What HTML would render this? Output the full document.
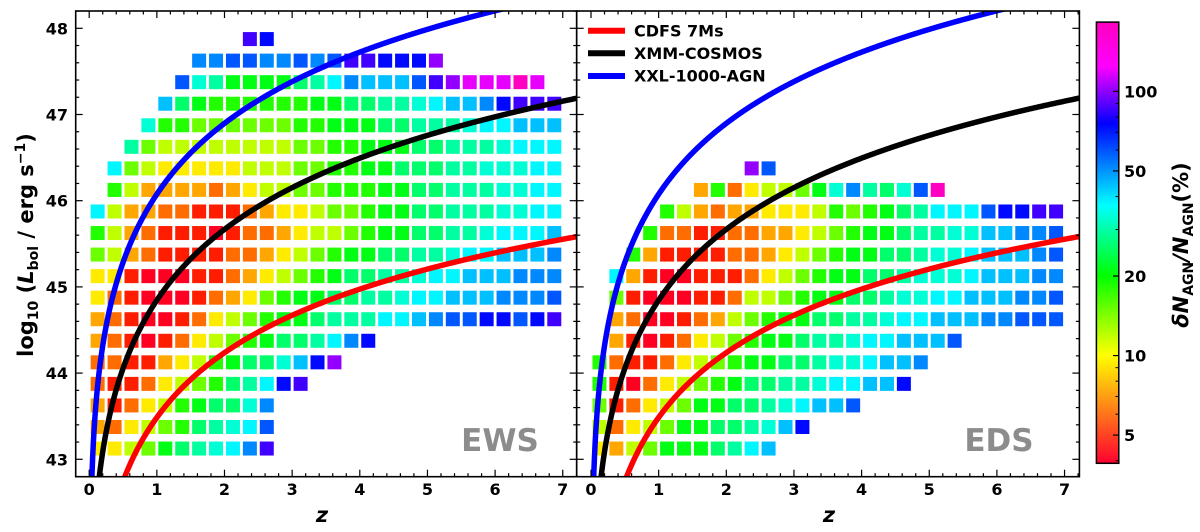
<!DOCTYPE html>
<html><head><meta charset="utf-8"><style>
html,body{margin:0;padding:0;background:#fff;width:1200px;height:532px;overflow:hidden;}
svg{display:block;font-family:"DejaVu Sans","Liberation Sans",sans-serif;}
</style></head><body>
<svg id="chart" width="1200" height="532" viewBox="0 0 1200 532" xmlns="http://www.w3.org/2000/svg" style="overflow:hidden">
<defs>
<clipPath id="clipL"><rect x="75.7" y="11" width="501" height="465.7"/></clipPath>
<clipPath id="clipR"><rect x="576.7" y="11" width="502.7" height="465.7"/></clipPath>
<linearGradient id="cbgrad" x1="0" y1="1" x2="0" y2="0">
<stop offset="0" stop-color="#ff0030"/><stop offset="0.245" stop-color="#ffff00"/><stop offset="0.425" stop-color="#00ff00"/><stop offset="0.585" stop-color="#00ffff"/><stop offset="0.77" stop-color="#0000ff"/><stop offset="0.9" stop-color="#ff00ff"/><stop offset="1" stop-color="#ff00c0"/>
</linearGradient>
</defs>
<g id="cells"></g>
<g id="curves"></g>
<g id="axes"></g>
<text x="500" y="451" font-size="31" font-weight="bold" fill="#8c8c8c" text-anchor="middle">EWS</text>
<text x="999" y="451" font-size="31" font-weight="bold" fill="#8c8c8c" text-anchor="middle">EDS</text>
<g>
<line x1="588" y1="30.7" x2="625" y2="30.7" stroke="#ff0000" stroke-width="6"/>
<text x="634" y="36.5" font-size="16" font-weight="bold">CDFS 7Ms</text>
<line x1="588" y1="53.3" x2="625" y2="53.3" stroke="#000" stroke-width="6"/>
<text x="634" y="59" font-size="16" font-weight="bold">XMM-COSMOS</text>
<line x1="588" y1="76" x2="625" y2="76" stroke="#0000ff" stroke-width="6"/>
<text x="634" y="81.7" font-size="16" font-weight="bold">XXL-1000-AGN</text>
</g>
<text transform="translate(33,245) rotate(-90)" text-anchor="middle" font-size="21" font-weight="bold">log<tspan font-size="14" dy="5">10</tspan><tspan dy="-5"> (</tspan><tspan font-style="italic">L</tspan><tspan font-size="14" dy="5">bol</tspan><tspan dy="-5"> / erg s</tspan><tspan font-size="14" dy="-8">−1</tspan><tspan dy="8">)</tspan></text>
<text x="322" y="522" font-size="21" font-weight="bold" font-style="italic" text-anchor="middle">z</text>
<text x="829" y="522" font-size="21" font-weight="bold" font-style="italic" text-anchor="middle">z</text>
<rect x="1096.4" y="22.1" width="22.4" height="441.2" fill="url(#cbgrad)" stroke="#000" stroke-width="1.5"/>
<g id="cbticks"></g>
<text transform="translate(1188,245) rotate(-90)" text-anchor="middle" font-size="21" font-weight="bold"><tspan font-style="italic">δN</tspan><tspan font-size="14" dy="5">AGN</tspan><tspan dy="-5" font-style="italic">/N</tspan><tspan font-size="14" dy="5">AGN</tspan><tspan dy="-5">(%)</tspan></text>
</svg>
<script>
// ---- data ----
const levelCodes = "0123456789abcdefghijk";
const levelValues = [4.0,4.9,6.3,7.6,9.4,11.9,15.0,18.3,21.1,25.9,29.6,33.4,37.9,44.2,51.5,59.4,73.8,85.5,101,119,176];
const zBinCenters = [0.125,0.375,0.625,0.875,1.125,1.375,1.625,1.875,2.125,2.375,2.625,2.875,3.125,3.375,3.625,3.875,4.125,4.375,4.625,4.875,5.125,5.375,5.625,5.875,6.125,6.375,6.625,6.875];
const lumBinCenters = [43.125,43.375,43.625,43.875,44.125,44.375,44.625,44.875,45.125,45.375,45.625,45.875,46.125,46.375,46.625,46.875,47.125,47.375,47.625,47.875];
const ewsRows = [
"445689abceh",
"3245679abcf",
"312457899be",
"211245679acgh",
"22113457899bdgi",
"3210124567899aceg",
"32100124567889aaaccdeffggfgh",
"4210001234678899aabccdddeeef",
"44100011234567899aabccdddeee",
"6532111122345678899aabccddde",
"753211101223455678899aabcccd",
"c53322111234456678899aaabbcc",
".75333323455667778899aaabbcc",
".c6544444555667788999aabbbcc",
"..a655555555667788899aaabccc",
"...b776666667788899aaabccddd",
"....d987777778899aabcddeghhh",
".....fba88889acedddfhijjjkj.",
"......eeffeefefhhgggi.......",
".........hg................."
];
const edsRows = [
"43568889acd",
"524568899abdg",
"6124568899abcddf",
"71024567899aabccddg",
"7211245678899abbcdde",
".310124567889aabccdddf",
".32001235678899aabccdddeefff",
".6100011255678899abbccdddeef",
".c3100111245678899abbbcdddee",
"..73111122345678899abbcdddef",
"...7221122334567889aabbddeef",
"....753233444576789acccfgghh",
"......37245568bea9bfk",
".........if",
"","","","","",""
];
// flux-limit curves: log L = norm + 2 log10(dL/Gpc) + slope*log10(1+z)
const surveyNames = ["cdfs-7ms","xmm-cosmos","xxl-1000-agn"];
const surveyNorm = [41.83, 43.07, 44.30];
const surveySlope = [0.05, 0.45, 0.45];
const surveyColors = ["#ff0000","#000000","#0000ff"];
const cbTickValues = [5,10,20,50,100];
const cbMinorValues = [4,6,7,8,9,30,40,60,70,80,90];

// ---- scales ----
const NS="http://www.w3.org/2000/svg";
const panels=[{zero:89.2,x0:75.7,x1:576.7,clip:"clipL",name:"ews"},{zero:591.0,x0:576.7,x1:1079.4,clip:"clipR",name:"eds"}];
const zs=67.65;
function xS(p,z){return p.zero+z*zs;}
function yS(L){return 28.3+(48-L)*86.2;}
const vmin=3.91,vmax=183;
function tOf(v){return (Math.log10(v)-Math.log10(vmin))/(Math.log10(vmax)-Math.log10(vmin));}
function colorOf(v){
  const t=Math.max(0,Math.min(1,tOf(v)));
  const T=[0,0.245,0.425,0.585,0.77,0.9,1], H=[-10,60,120,180,240,300,316];
  let h=H[6];
  for(let i=0;i<6;i++){if(t<=T[i+1]){h=H[i]+(H[i+1]-H[i])*(t-T[i])/(T[i+1]-T[i]);break;}}
  return "hsl("+((h+360)%360).toFixed(1)+",100%,50%)";
}
function cbY(v){return 463.3-tOf(v)*441.2;}
function mk(tag,attrs,parent){const e=document.createElementNS(NS,tag);for(const k in attrs)e.setAttribute(k,attrs[k]);parent.appendChild(e);return e;}
function dLGpc(z){
  const n=200; let s=0; const Om=0.3;
  for(let i=0;i<n;i++){const zz=(i+0.5)*z/n; s+=1/Math.sqrt(Om*Math.pow(1+zz,3)+1-Om);}
  return (1+z)*4.2827*s*z/n;
}

// ---- cells ----
const cells=document.getElementById('cells');
[ewsRows,edsRows].forEach((rows,pi)=>{
  const p=panels[pi];
  rows.forEach((row,k)=>{
    for(let i=0;i<row.length;i++){
      const li=levelCodes.indexOf(row[i]);
      if(li<0)continue;
      const v=levelValues[li];
      const cx=xS(p,zBinCenters[i]), cy=yS(lumBinCenters[k]);
      const r=mk('rect',{x:(cx-7).toFixed(2),y:(cy-7).toFixed(2),width:14,height:14,fill:colorOf(v)},cells);
      
      
    }
  });
});

// ---- curves ----
const curves=document.getElementById('curves');
panels.forEach(p=>{
  const g=mk('g',{'clip-path':'url(#'+p.clip+')'},curves);
  surveyNames.forEach((nm,si)=>{
    let d="";
    for(let j=0;j<=800;j++){
      const z=0.005+j*0.0092;
      const L=surveyNorm[si]+2*Math.log10(dLGpc(z))+surveySlope[si]*Math.log10(1+z);
      if(L<42.6||L>48.5)continue;
      d+=(d?" L":"M")+xS(p,z).toFixed(2)+","+yS(L).toFixed(2);
    }
    const path=mk('path',{d:d,fill:'none',stroke:surveyColors[si],'stroke-width':5.5},g);
    
    
  });
});

// ---- axes ----
const axes=document.getElementById('axes');
const yTop=11,yBot=476.7;
panels.forEach((p,pi)=>{
  const fr=mk('rect',{x:p.x0,y:yTop,width:p.x1-p.x0,height:yBot-yTop,fill:'none',stroke:'#000','stroke-width':1.6},axes);
  
  
  for(let j=0;j<=36;j++){
    const z=j*0.2; const x=xS(p,z); if(x>p.x1-1)break;
    const major=(j%5===0); const len=major?7:3.5;
    mk('line',{x1:x,y1:yBot,x2:x,y2:yBot-len,stroke:'#000','stroke-width':1.2},axes);
    mk('line',{x1:x,y1:yTop,x2:x,y2:yTop+len,stroke:'#000','stroke-width':1.2},axes);
    if(major){
      const t=mk('text',{x:x,y:495,'font-size':16,'font-weight':'bold','text-anchor':'middle'},axes);
      t.textContent=String(Math.round(z));
      
      
    }
  }
  for(let j=0;j<=27;j++){
    const L=42.8+j*0.2; const y=yS(L); const major=Math.abs(L-Math.round(L))<0.01;
    const len=major?7:3.5;
    mk('line',{x1:p.x0,y1:y,x2:p.x0+len,y2:y,stroke:'#000','stroke-width':1.2},axes);
    mk('line',{x1:p.x1,y1:y,x2:p.x1-len,y2:y,stroke:'#000','stroke-width':1.2},axes);
    if(major&&pi===0){
      const t=mk('text',{x:68,y:y+6,'font-size':16,'font-weight':'bold','text-anchor':'end'},axes);
      t.textContent=String(Math.round(L));
      
      
    }
  }
});
const cbt=document.getElementById('cbticks');
cbTickValues.forEach(v=>{
  const y=cbY(v);
  mk('line',{x1:1118.8,y1:y,x2:1113,y2:y,stroke:'#000','stroke-width':1.2},cbt);
  const t=mk('text',{x:1124,y:y+6,'font-size':16,'font-weight':'bold'},cbt);
  t.textContent=String(v);
  
  
});
cbMinorValues.forEach(v=>{
  const y=cbY(v);
  mk('line',{x1:1118.8,y1:y,x2:1115.5,y2:y,stroke:'#000','stroke-width':1},cbt);
});
</script>
</body></html>
